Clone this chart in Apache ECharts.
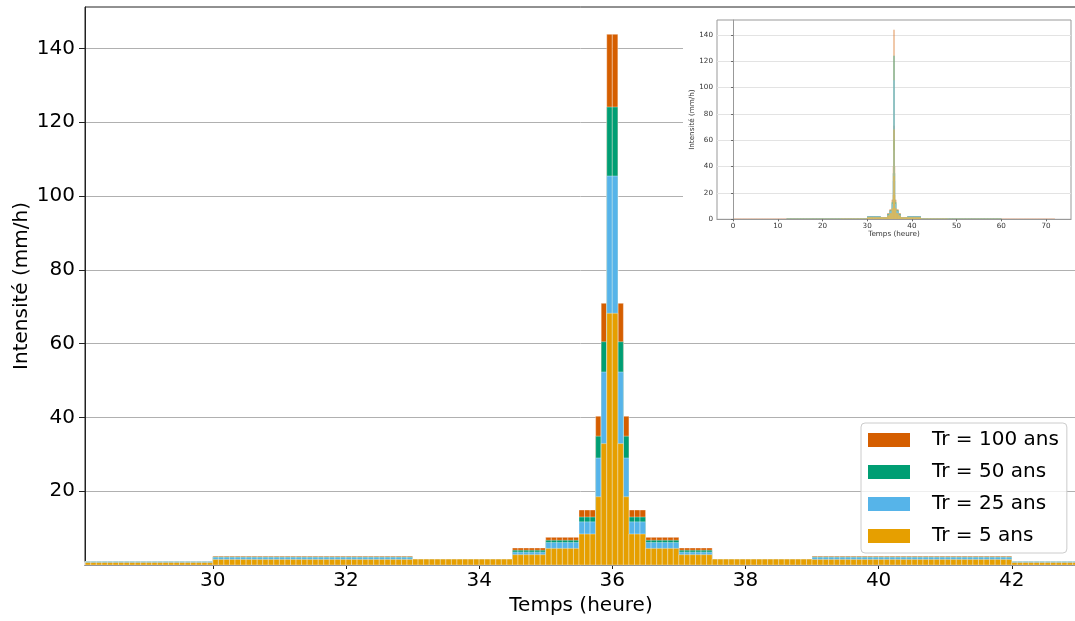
<!DOCTYPE html>
<html>
<head>
<meta charset="utf-8">
<script src="https://cdn.jsdelivr.net/npm/echarts@6/dist/echarts.min.js"></script>
<style>
  html, body { margin: 0; padding: 0; background: #fff; }
  #chart { width: 1075px; height: 621px; }
</style>
</head>
<body>
<div id="chart"></div>
<script>
// design storm blocks, edges in minutes from the start (72 h)
const blockEdges = [0, 720, 1440, 1800, 1980, 2070, 2100, 2130, 2145, 2150, 2155,
  2165, 2170, 2175, 2190, 2220, 2250, 2340, 2520, 2880, 3600, 4320];
// intensity (mm/h) of each block
const tr5 = [0.2, 0.45, 0.65, 1.5, 1.6, 2.8, 4.5, 8.4, 18.5, 32.9, 68.2,
  32.9, 18.5, 8.4, 4.5, 2.8, 1.6, 1.5, 0.65, 0.45, 0.2];
const tr25 = [0.3, 0.6, 0.9, 2.05, 1.55, 3.5, 6.1, 11.7, 29.0, 52.3, 105.4,
  52.3, 29.0, 11.7, 6.1, 3.5, 1.55, 2.05, 0.9, 0.6, 0.3];
const tr50 = [0.32, 0.65, 0.92, 2.2, 1.55, 4.0, 6.7, 13.0, 34.9, 60.5, 124.1,
  60.5, 34.9, 13.0, 6.7, 4.0, 1.55, 2.2, 0.92, 0.65, 0.32];
const tr100 = [0.35, 0.7, 0.95, 2.4, 1.55, 4.6, 7.5, 14.9, 40.3, 70.9, 143.8,
  70.9, 40.3, 14.9, 7.5, 4.6, 1.55, 2.4, 0.95, 0.7, 0.35];

const seriesNames = ["Tr = 100 ans", "Tr = 50 ans", "Tr = 25 ans", "Tr = 5 ans"];
const seriesValues = [tr100, tr50, tr25, tr5];
const colors = ["#D55E00", "#009E73", "#56B4E9", "#E69F00"];

const mainTicksX = [30, 32, 34, 36, 38, 40, 42];
const mainTicksY = [20, 40, 60, 80, 100, 120, 140];
const insetTicksX = [0, 10, 20, 30, 40, 50, 60, 70];
const insetTicksY = [0, 20, 40, 60, 80, 100, 120, 140];

const stepMin = 5;
const binHours = stepMin / 60;
const font = "DejaVu Sans";

// one bar every 5 minutes, value taken from its block
function toBins(values) {
  const out = [];
  for (let i = 0; i < values.length; i++) {
    for (let m = blockEdges[i]; m < blockEdges[i + 1]; m += stepMin) {
      out.push([m / 60, values[i]]);
    }
  }
  return out;
}

function makeRender(edge) {
  return function (params, api) {
    const t0 = api.value(0);
    const top = api.coord([t0, api.value(1)]);
    const bot = api.coord([t0 + binHours, 0]);
    const shape = echarts.graphic.clipRectByRect(
      { x: top[0], y: top[1], width: bot[0] - top[0], height: bot[1] - top[1] },
      params.coordSys
    );
    if (!shape) return;
    const style = { fill: api.visual("color") };
    if (edge > 0) {
      style.stroke = "#fff";
      style.lineWidth = edge;
    }
    return { type: "rect", shape: shape, style: style };
  };
}

const series = [];
seriesNames.forEach(function (name, k) {
  const bins = toBins(seriesValues[k]);
  series.push({
    name: name,
    type: "custom",
    xAxisIndex: 0,
    yAxisIndex: 0,
    itemStyle: { color: colors[k] },
    renderItem: makeRender(0.35),
    data: bins.filter(function (d) { return d[0] > 27.9 && d[0] < 43; }),
    z: 2,
  });
  series.push({
    name: name,
    type: "custom",
    xAxisIndex: 1,
    yAxisIndex: 1,
    itemStyle: { color: colors[k] },
    renderItem: makeRender(0.08),
    data: bins,
    z: 30,
  });
});

const option = {
  animation: false,
  backgroundColor: "#fff",
  textStyle: { fontFamily: font },
  grid: [
    { left: 85, top: 7, width: 992, height: 558, outerBoundsMode: "none", show: true, borderColor: "#222", borderWidth: 1, backgroundColor: "transparent" },
    { left: 717, top: 20, width: 354, height: 199.3, outerBoundsMode: "none", show: true, borderColor: "#999", borderWidth: 1, backgroundColor: "#fff", z: 25 },
  ],
  graphic: [
    {
      type: "rect",
      z: 20,
      shape: { x: 683, y: 8, width: 392, height: 234 },
      style: { fill: "#fff" },
    },
  ],
  legend: {
    data: seriesNames.map(function (n) { return { name: n, icon: "rect" }; }),
    orient: "vertical",
    left: 861,
    top: 423,
    padding: [7, 8, 7, 7],
    itemWidth: 42,
    itemHeight: 14,
    itemGap: 12,
    backgroundColor: "rgba(255,255,255,0.8)",
    borderColor: "#ccc",
    borderWidth: 1,
    borderRadius: 4,
    textStyle: { fontSize: 20, color: "#000", fontFamily: font, padding: [0, 0, 0, 17] },
  },
  xAxis: [
    {
      type: "value",
      gridIndex: 0,
      min: 28.08,
      max: 42.98,
      name: "Temps (heure)",
      nameLocation: "middle",
      nameGap: 31,
      nameMoveOverlap: false,
      nameTextStyle: { fontSize: 20, color: "#000", fontFamily: font },
      axisLine: { show: true, onZero: false, lineStyle: { color: "#222" } },
      axisTick: { show: true, customValues: mainTicksX, length: 4, lineStyle: { color: "#222" } },
      axisLabel: { customValues: mainTicksX, fontSize: 20, color: "#000", margin: 6, fontFamily: font },
      splitLine: { show: false },
    },
    {
      type: "value",
      gridIndex: 1,
      min: -3.6,
      max: 75.6,
      name: "Temps (heure)",
      nameLocation: "middle",
      nameGap: 11,
      z: 30,
      nameTextStyle: { fontSize: 7.2, color: "#333", fontFamily: font },
      axisLine: { show: true, onZero: false, lineStyle: { color: "#999" } },
      axisTick: { show: true, customValues: insetTicksX, length: 2, lineStyle: { color: "#666" } },
      axisLabel: { customValues: insetTicksX, fontSize: 7.2, color: "#333", margin: 3, fontFamily: font },
      splitLine: { show: false },
    },
  ],
  yAxis: [
    {
      type: "value",
      gridIndex: 0,
      min: 0,
      max: 151.2,
      interval: 20,
      name: "Intensité (mm/h)",
      nameLocation: "middle",
      nameGap: 53,
      nameMoveOverlap: false,
      nameTextStyle: { fontSize: 20, color: "#000", fontFamily: font },
      axisLine: { show: true, lineStyle: { color: "#222" } },
      axisTick: { show: true, customValues: mainTicksY, length: 6, lineStyle: { color: "#222" } },
      axisLabel: { customValues: mainTicksY, fontSize: 20, color: "#000", margin: 10, fontFamily: font },
      splitLine: { show: true, lineStyle: { color: "#b0b0b0", width: 1 } },
    },
    {
      type: "value",
      gridIndex: 1,
      min: 0,
      max: 151.2,
      interval: 20,
      name: "Intensité (mm/h)",
      nameLocation: "middle",
      nameGap: 18,
      z: 30,
      nameTextStyle: { fontSize: 7.2, color: "#333", fontFamily: font },
      axisLine: { show: true, lineStyle: { color: "#999" } },
      axisTick: { show: true, customValues: insetTicksY, length: 2, lineStyle: { color: "#666" } },
      axisLabel: { customValues: insetTicksY, fontSize: 7.2, color: "#333", margin: 4, fontFamily: font },
      splitLine: { show: true, lineStyle: { color: "#e3e3e3", width: 1 } },
    },
  ],
  series: series,
};

const myChart = echarts.init(document.getElementById("chart"));
myChart.setOption(option);
</script>
</body>
</html>
